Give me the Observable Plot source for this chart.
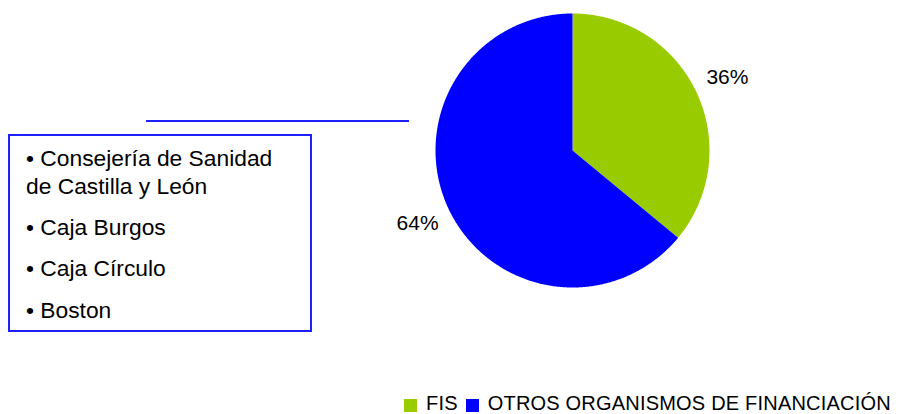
<!DOCTYPE html>
<html>
<head>
<meta charset="utf-8">
<script src="https://cdn.jsdelivr.net/npm/d3@7"></script>
<script src="https://cdn.jsdelivr.net/npm/@observablehq/plot@0.6"></script>
<style>
  html, body { margin: 0; padding: 0; background: #fff; }
  #wrap { position: relative; width: 903px; height: 414px; font-family: "Liberation Sans", Arial, sans-serif; overflow: hidden; }
  #chart { position: absolute; left: 0; top: 0; }
  #rule { position: absolute; left: 146px; top: 120px; width: 263px; height: 2px; background: #1f1fff; }
  #box { position: absolute; left: 8px; top: 134px; width: 300px; height: 194px; border: 2px solid #1f1fff; }
  #box p { margin: 0; position: absolute; left: 16px; font-size: 22.8px; line-height: 27.5px; color: #000; white-space: nowrap; }
  #legend { position: absolute; top: 393px; left: 404px; height: 20px; line-height: 20px; font-size: 20px; letter-spacing: 0.2px; color: #000; white-space: nowrap; display: flex; align-items: center; }
  #legend .sw { display: inline-block; width: 13px; height: 13px; margin-right: 9px; margin-top: 4px; }
  #legend .it { display: inline-flex; align-items: center; margin-right: 8px; }
</style>
</head>
<body>
<div id="wrap">
  <div id="chart"></div>
  <div id="rule"></div>
  <div id="box"></div>
  <div id="legend"></div>
</div>
<script>
// Data
const categories = ["FIS", "OTROS ORGANISMOS DE FINANCIACIÓN"];
const values = [36, 64];
const colors = ["#99cc00", "#0000ff"];
const labels = ["36%", "64%"];
const sponsors = ["Consejería de Sanidad\nde Castilla y León", "Caja Burgos", "Caja Círculo", "Boston"];

// Build pie geometry from data via d3.pie
const arcs = d3.pie().sort(null).startAngle(0).endAngle(2 * Math.PI)(values);
const points = [];
arcs.forEach((a, i) => {
  const name = categories[i];
  points.push({name, x: 0, y: 0});
  const steps = Math.max(2, Math.ceil((a.endAngle - a.startAngle) / 0.01));
  for (let k = 0; k <= steps; k++) {
    const t = a.startAngle + (a.endAngle - a.startAngle) * k / steps;
    points.push({name, x: Math.sin(t), y: Math.cos(t)});
  }
});
const labelData = arcs.map((a, i) => {
  const m = (a.startAngle + a.endAngle) / 2;
  return {label: labels[i], x: 1.25 * Math.sin(m), y: 1.25 * Math.cos(m)};
});

const plot = Plot.plot({
  width: 903,
  height: 414,
  margin: 0,
  style: {fontFamily: "Liberation Sans, Arial, sans-serif", background: "transparent", overflow: "visible"},
  x: {domain: [-1, 1], range: [435, 709], axis: null},
  y: {domain: [-1, 1], range: [287, 13], axis: null},
  color: {domain: categories, range: colors},
  marks: [
    Plot.line(points, {x: "x", y: "y", z: "name", fill: "name", stroke: null, curve: "linear-closed"}),
    Plot.text(labelData, {x: "x", y: "y", text: "label", fontSize: 21, fill: "#000", textAnchor: "middle"})
  ]
});
document.getElementById("chart").appendChild(plot);

// Sponsor box
const box = document.getElementById("box");
const tops = [9, 77.5, 118.5, 160.5];
sponsors.forEach((s, i) => {
  const p = document.createElement("p");
  p.style.top = tops[i] + "px";
  p.innerHTML = "• " + s.replace("\n", "<br>");
  box.appendChild(p);
});

// Legend
const legend = document.getElementById("legend");
categories.forEach((c, i) => {
  const it = document.createElement("span");
  it.className = "it";
  const sw = document.createElement("span");
  sw.className = "sw";
  sw.style.background = colors[i];
  it.appendChild(sw);
  it.appendChild(document.createTextNode(c));
  legend.appendChild(it);
});
</script>
</body>
</html>
